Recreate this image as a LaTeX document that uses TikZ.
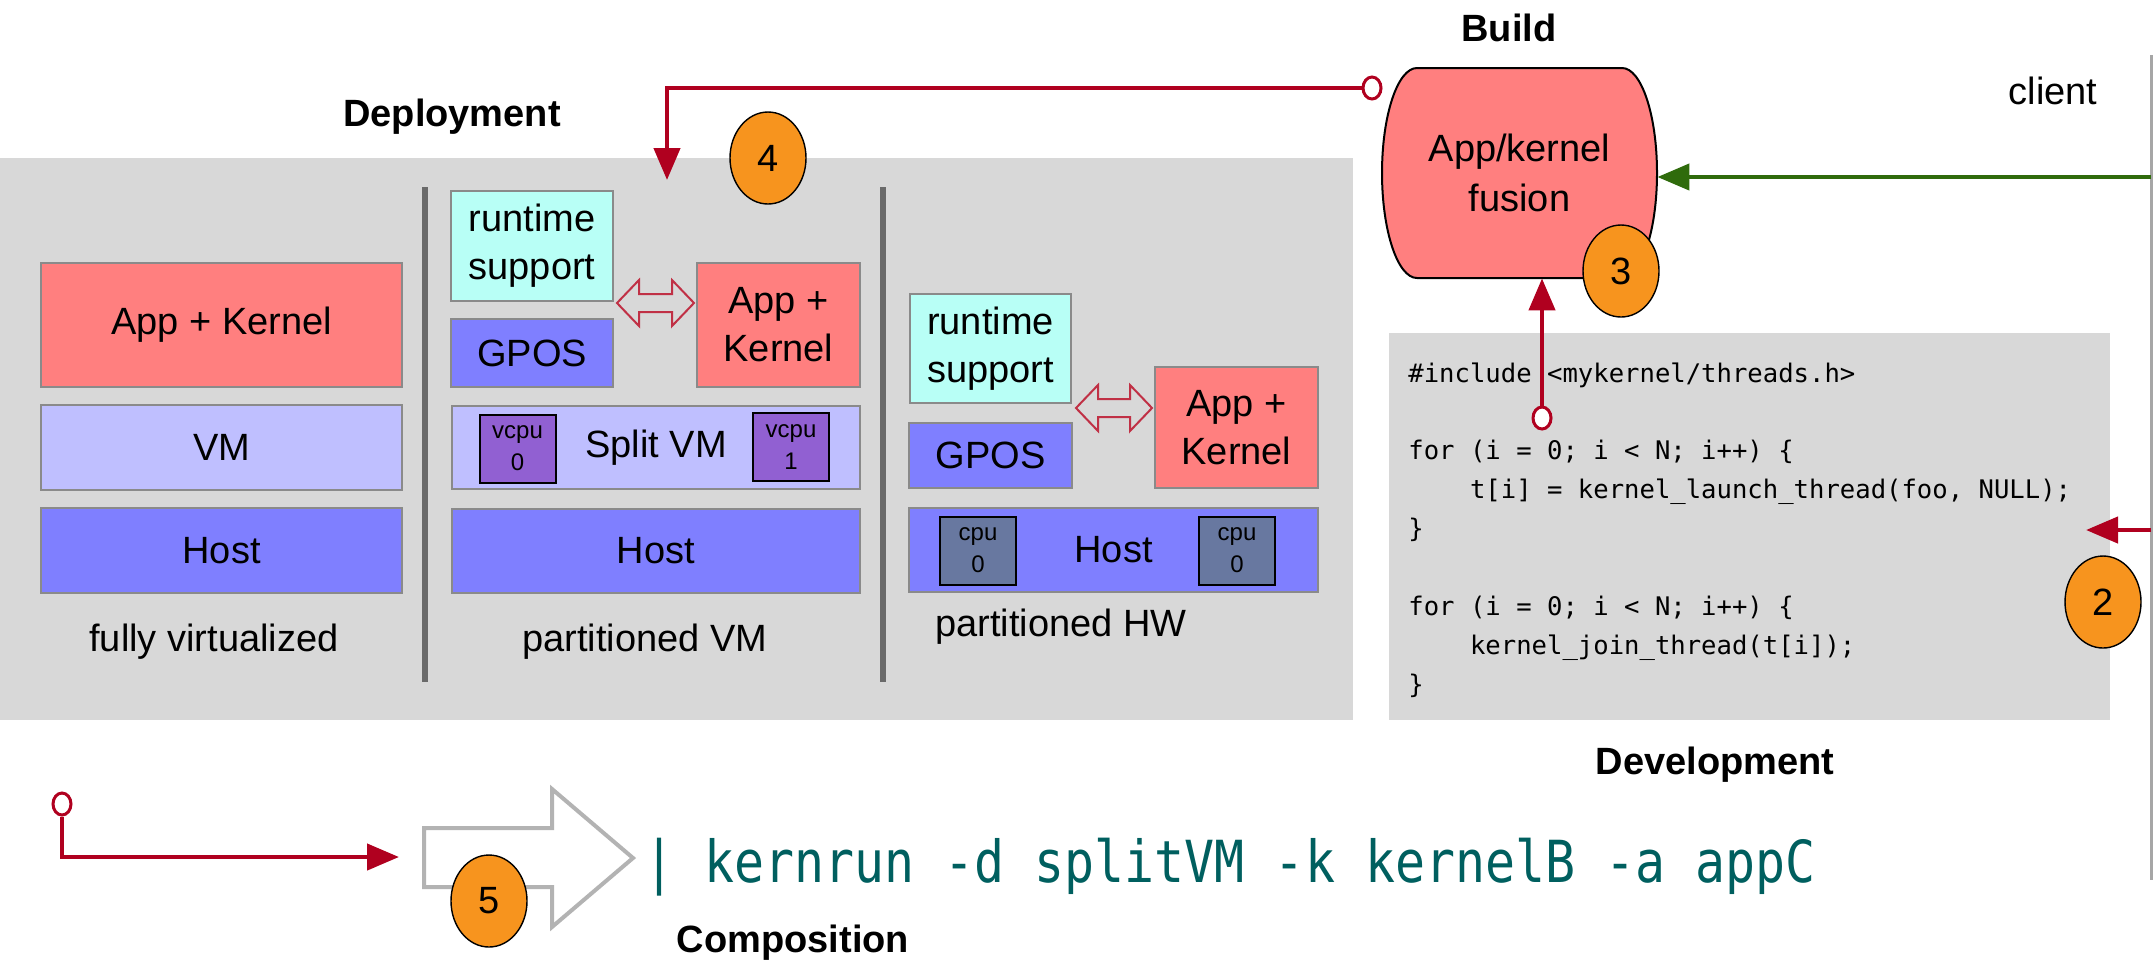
\documentclass[tikz,border=0pt]{standalone}
\usepackage{fontspec}
\setmainfont{Liberation Sans}
\setmonofont{DejaVu Sans Mono}
\newfontfamily\cmdfont[FakeStretch=0.86]{DejaVu Sans Mono}
\usetikzlibrary{arrows.meta, shapes.geometric}

\definecolor{panelgray}{HTML}{D8D8D8}
\definecolor{boxline}{HTML}{8A8A8A}
\definecolor{akred}{HTML}{FF7F7F}
\definecolor{vmlav}{HTML}{BFBFFF}
\definecolor{hostblue}{HTML}{7F7FFF}
\definecolor{rtcyan}{HTML}{B8FFF6}
\definecolor{vcpupurple}{HTML}{9160D2}
\definecolor{cpuslate}{HTML}{6878A0}
\definecolor{sepgray}{HTML}{6A6A6A}
\definecolor{linkred}{HTML}{B0001F}
\definecolor{swapred}{HTML}{C03045}
\definecolor{linkgreen}{HTML}{2F6B0C}
\definecolor{badgeorange}{HTML}{F7941E}
\definecolor{cmdteal}{HTML}{005F5F}
\definecolor{arrowgray}{HTML}{B3B3B3}

\begin{document}
\begin{tikzpicture}[x=0.5pt, y=-0.5pt, >={Triangle[length=16pt, width=13pt]},
  layer/.style={draw=boxline, line width=1pt, inner sep=0pt, align=center, font=\fontsize{19}{24}\selectfont},
  cpubox/.style={draw=black, line width=1pt, inner sep=0pt, align=center, minimum width=38pt, minimum height=34pt, font=\fontsize{12}{16}\selectfont},
  stage/.style={font=\bfseries\fontsize{19}{23}\selectfont, inner sep=0pt},
  plain/.style={font=\fontsize{19}{23}\selectfont, inner sep=0pt},
  badge/.style={ellipse, draw=black, line width=0.7pt, fill=badgeorange, minimum width=38pt, minimum height=46pt, inner sep=0pt, font=\fontsize{19}{23}\selectfont},
  ring/.style={ellipse, draw=linkred, line width=1.5pt, fill=white, minimum width=9pt, minimum height=11pt, inner sep=0pt},
  link/.style={draw=linkred, line width=2.2pt},
  sep/.style={draw=sepgray, line width=3pt},
  swap/.style={draw=swapred, line width=1pt},
]
  \useasboundingbox (0,0) rectangle (2156,966);

  % Panels
  \fill[panelgray] (0,158) rectangle (1353,720);
  \fill[panelgray] (1389,333) rectangle (2110,720);
  \draw[draw=gray!70, line width=1.5pt] (2151,55) -- (2151,880);

  % Column separators
  \draw[sep] (425,187) -- (425,682);
  \draw[sep] (883,187) -- (883,682);

  % Fully virtualized
  \node[layer, fill=akred, minimum width=180.5pt, minimum height=62pt] (ak1) at (221.5,325) {App + Kernel};
  \node[layer, fill=vmlav, minimum width=180.5pt, minimum height=42.5pt] (vm1) at (221.5,447.5) {VM};
  \node[layer, fill=hostblue, minimum width=180.5pt, minimum height=42.5pt] (host1) at (221.5,550.5) {Host};
  \node[plain] (lab1) at (214,642) {fully virtualized};

  % Partitioned VM
  \node[layer, fill=rtcyan, minimum width=81pt, minimum height=55pt] (rs2) at (532,246) {runtime\\support};
  \node[layer, fill=hostblue, minimum width=81pt, minimum height=34pt] (gpos2) at (532,353) {GPOS};
  \node[layer, fill=akred, minimum width=81.5pt, minimum height=62pt] (ak2) at (778.5,325) {App +\\Kernel};
  \node[layer, fill=vmlav, minimum width=204pt, minimum height=41.5pt] (split2) at (656,447.5) {Split VM};
  \node[cpubox, fill=vcpupurple] (vcpu0) at (517.5,448.5) {vcpu\\0};
  \node[cpubox, fill=vcpupurple] (vcpu1) at (791,447) {vcpu\\1};
  \node[layer, fill=hostblue, minimum width=204pt, minimum height=42pt] (host2) at (656,551) {Host};
  \node[plain] (lab2) at (645,642) {partitioned VM};

  % Partitioned HW
  \node[layer, fill=rtcyan, minimum width=80.5pt, minimum height=54.5pt] (rs3) at (990.5,348.5) {runtime\\support};
  \node[layer, fill=hostblue, minimum width=81.5pt, minimum height=32.5pt] (gpos3) at (990.5,455.5) {GPOS};
  \node[layer, fill=akred, minimum width=81.5pt, minimum height=60.5pt] (ak3) at (1236.5,427.5) {App +\\Kernel};
  \node[layer, fill=hostblue, minimum width=204.5pt, minimum height=42pt] (host3) at (1113.5,550) {Host};
  \node[cpubox, fill=cpuslate] (cpua) at (978,550.5) {cpu\\0};
  \node[cpubox, fill=cpuslate] (cpub) at (1237,550.5) {cpu\\0};
  \node[plain] (lab3) at (1061,627) {partitioned HW};

  % Exchange arrows
  \foreach \l/\r/\m in {617/694/303, 1076/1152/408}
    \draw[swap] (\l,\m) -- (\l+22,\m-23) -- (\l+22,\m-9) -- (\r-22,\m-9) -- (\r-22,\m-23)
      -- (\r,\m) -- (\r-22,\m+23) -- (\r-22,\m+9) -- (\l+22,\m+9) -- (\l+22,\m+23) -- cycle;

  % Build: fusion
  \path[draw=black, line width=1pt, fill=akred] (1417,68) -- (1622,68)
    arc[start angle=90, end angle=-90, x radius=17.5pt, y radius=52.5pt] -- (1417,278)
    arc[start angle=-90, end angle=-270, x radius=17.5pt, y radius=52.5pt] -- cycle;
  \node[align=center, inner sep=0pt, minimum width=137.5pt, minimum height=105pt, font=\fontsize{19}{25}\selectfont] (fusion) at (1519.5,173) {App/kernel\\fusion};

  % Development: code
  \node[anchor=base west, inner sep=0pt, font=\ttfamily\fontsize{12.8}{19.45}\selectfont] (code) at (1408,382) {%
    \begin{tabular}[t]{@{}l@{}}
      \#include <mykernel/threads.h>\\
      \\
      for (i = 0; i < N; i++) \{\\
      \phantom{xxxx}t[i] = kernel\_launch\_thread(foo, NULL);\\
      \}\\
      \\
      for (i = 0; i < N; i++) \{\\
      \phantom{xxxx}kernel\_join\_thread(t[i]);\\
      \}
    \end{tabular}};

  % Composition
  \draw[draw=arrowgray, line width=2pt, fill=white] (424,828) -- (552,828) -- (552,789) -- (633,858)
    -- (552,927) -- (552,887) -- (424,887) -- cycle;
  \node[anchor=base west, inner sep=0pt, text=cmdteal, font=\cmdfont\fontsize{29}{34}\selectfont] (cmd) at (644,882) {| kernrun -d splitVM -k kernelB -a appC};

  % Stage labels
  \node[stage] (deploy) at (452,117) {Deployment};
  \node[stage] (build) at (1509,28) {Build};
  \node[stage] (devel) at (1715,765) {Development};
  \node[stage] (compose) at (793,943) {Composition};
  \node[plain] (client) at (2053,91) {client};

  % Connectors
  \node[ring] (r4) at (1372,88) {};
  \node[ring] (r3) at (1542,418) {};
  \node[ring] (r5) at (62,804) {};
  \coordinate (d4) at (667,180);
  \coordinate (g0) at (2151,177);
  \coordinate (c2a) at (2151,530);
  \coordinate (c2b) at (2086,530);
  \coordinate (c5) at (399,857);
  \draw[link, ->] (r4) -| (d4);
  \draw[link, ->] (r3) -- (r3 |- fusion.south);
  \draw[link, ->] (c2a) -- (c2b);
  \draw[link, ->] (r5) |- (c5);
  \draw[draw=linkgreen, line width=2.2pt, ->] (g0) -- (g0 -| fusion.east);

  % Step badges
  \node[badge] (s4) at (768,158) {4};
  \node[badge] (s3) at (1621,271) {3};
  \node[badge] (s2) at (2103,602) {2};
  \node[badge] (s5) at (489,901) {5};
\end{tikzpicture}
\end{document}
